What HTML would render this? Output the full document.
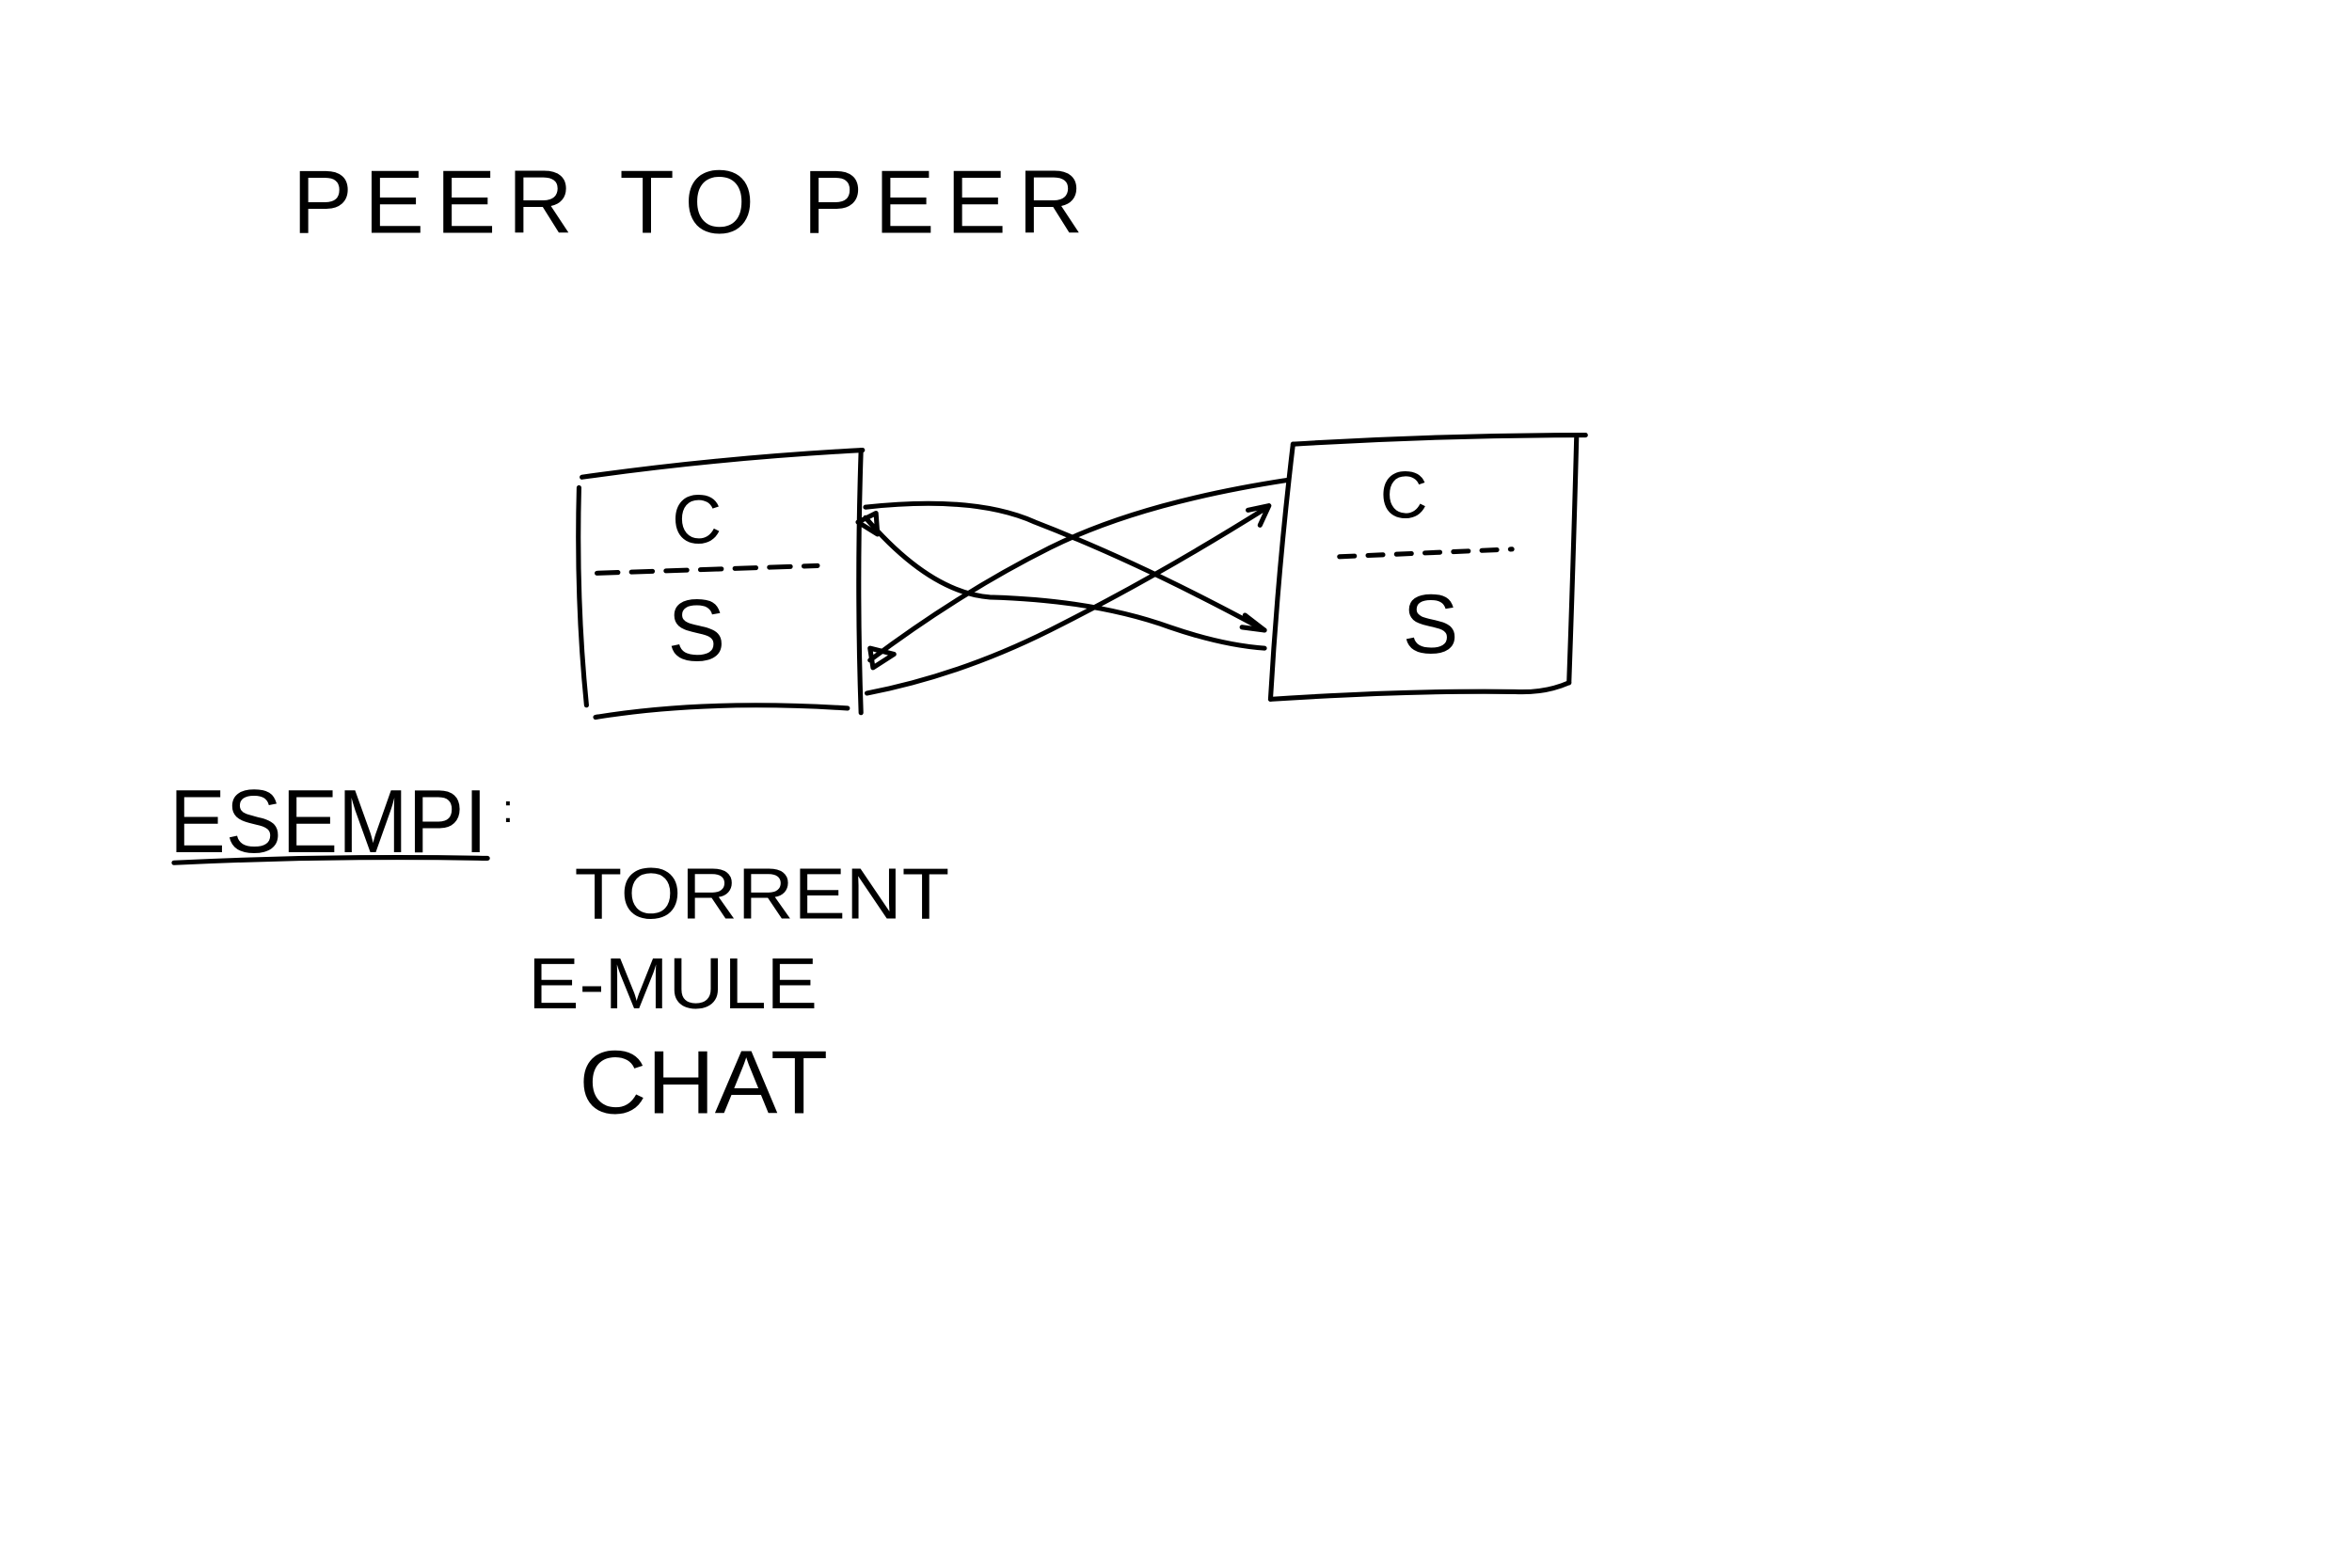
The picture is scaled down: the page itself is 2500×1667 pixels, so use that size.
<!DOCTYPE html>
<html><head><meta charset="utf-8"><style>
html,body{margin:0;padding:0;background:#fff;}
svg{display:block;}
text{font-family:"Liberation Sans",sans-serif;fill:#000;stroke:none;}
</style></head><body>
<svg width="2500" height="1667" viewBox="0 0 1568 1045" preserveAspectRatio="none" xmlns="http://www.w3.org/2000/svg">
<rect width="1568" height="1045" fill="#fff"/>
<g fill="none" stroke="#000" stroke-width="3.2" stroke-linecap="round" stroke-linejoin="round">
<path d="M386 325 Q384 400 391 470"/>
<path d="M388 318 Q480 305 575 300"/>
<path d="M574 300 Q571 390 574 475"/>
<path d="M397 478 Q470 466 565 472"/>
<path d="M398 382 L545 377" stroke-dasharray="14 9"/>
<path d="M862 296 Q960 290 1057 290"/>
<path d="M862 296 Q852 380 847 466"/>
<path d="M1051 292 Q1049 370 1046 455"/>
<path d="M847 466 Q940 460 1010 461 Q1030 462 1046 455"/>
<path d="M893 371 L1008 366" stroke-dasharray="10 9"/>
<path d="M577 338 Q650 330 690 348 Q760 375 843 420"/>
<path d="M577 345 Q620 395 660 398 Q730 400 780 418 Q815 430 843 432"/>
<path d="M580 440 Q640 395 700 365 Q760 335 858 320"/>
<path d="M578 462 Q640 450 700 420 Q770 385 845 338"/>
<path d="M572 348 L584 342 L585 356 Z"/>
<path d="M830 410 L843 420 L828 418"/>
<path d="M580 432 L596 436 L582 445 Z"/>
<path d="M832 340 L846 337 L840 350"/>
<path d="M116 575 Q220 570 325 572"/>
</g>
<g>
<text x="195" y="155" font-size="60" textLength="527" lengthAdjust="spacing">PEER  TO  PEER</text>
<text x="448" y="362" font-size="46">C</text>
<text x="445" y="440" font-size="58">S</text>
<text x="920" y="345" font-size="44">C</text>
<text x="935" y="435" font-size="56">S</text>
<text x="113" y="568" font-size="60" textLength="212" lengthAdjust="spacingAndGlyphs">ESEMPI</text>
<text x="335" y="548" font-size="26">:</text>
<text x="383" y="612" font-size="48" textLength="250" lengthAdjust="spacingAndGlyphs">TORRENT</text>
<text x="352" y="672" font-size="48" textLength="193" lengthAdjust="spacingAndGlyphs">E-MULE</text>
<text x="386" y="742" font-size="60" textLength="166" lengthAdjust="spacingAndGlyphs">CHAT</text>
</g>
</svg>
</body></html>
